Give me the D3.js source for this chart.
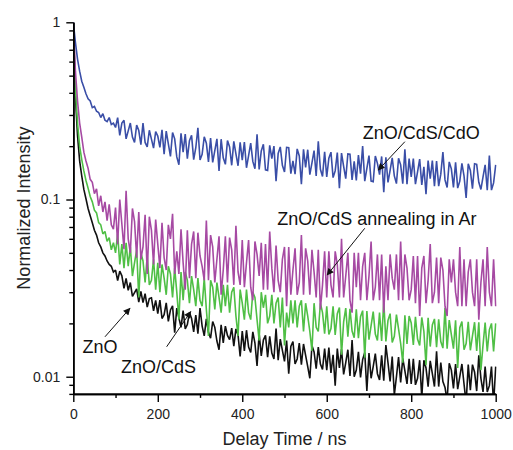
<!DOCTYPE html>
<html><head><meta charset="utf-8">
<script src="https://cdn.jsdelivr.net/npm/d3@7"></script>
<style>
html,body{margin:0;padding:0;background:#fff;}
svg{display:block;font-family:"Liberation Sans",Arial,sans-serif;}
</style></head>
<body><svg id="c" width="513" height="450"></svg>
<script>
// ---- data (delay time grid: leading rise point at t=0, then every 5 ns) ----
const seriesNames = ["ZnO", "ZnO/CdS", "ZnO/CdS annealing in Ar", "ZnO/CdS/CdO"];
const seriesColors = ["#111111", "#4fbf45", "#a64aa3", "#3a4ea7"];
const xTicks = [0, 200, 400, 600, 800, 1000];
const yTicks = [0.01, 0.1, 1];

const znO = [1.0,
1.0,0.38,0.23,0.165,0.136,0.114,0.101,0.089,0.081,0.074,0.067,0.063,0.057,0.054,0.05,0.048,0.045,0.043,0.042,0.039,0.04,
0.0349,0.0394,0.0371,0.0315,0.0359,0.0307,0.034,0.0284,0.0298,0.0313,0.0264,0.0303,0.0262,0.0294,0.0247,0.0276,0.0279,0.0235,0.027,0.0227,
0.0271,0.0213,0.0224,0.0261,0.0205,0.0238,0.0251,0.0177,0.0244,0.0215,0.019,0.0236,0.0186,0.0197,0.023,0.0213,0.0179,0.0223,0.0175,0.0244,
0.0193,0.017,0.0212,0.0178,0.0165,0.0205,0.019,0.0159,0.0142,0.0196,0.0155,0.0193,0.0171,0.0162,0.0188,0.0149,0.0186,0.0172,0.013,0.0181,
0.014,0.0183,0.0147,0.0137,0.0179,0.0155,0.0115,0.0175,0.0131,0.0161,0.0171,0.0129,0.0169,0.0136,0.0126,0.0187,0.0124,0.0163,0.0141,0.0122,
0.016,0.0104,0.0148,0.0158,0.0118,0.0126,0.0155,0.0117,0.0153,0.0132,0.0114,0.0098,0.015,0.0138,0.0111,0.0147,0.0118,0.011,0.0144,0.0109,
0.0146,0.0105,0.0133,0.0089,0.0144,0.0112,0.0143,0.0103,0.012,0.0142,0.0101,0.0161,0.01,0.0109,0.0138,0.0099,0.0125,0.0137,0.0083,0.0136,
0.0098,0.0114,0.0135,0.0104,0.0096,0.0132,0.0095,0.0151,0.012,0.0094,0.013,0.0079,0.01,0.0129,0.0093,0.0127,0.0108,0.0091,0.0126,0.0091,
0.0126,0.009,0.0098,0.0124,0.0076,0.0124,0.0112,0.0088,0.0123,0.0104,0.0088,0.0139,0.0088,0.012,0.0094,0.0087,0.0073,0.0119,0.0109,0.0086,
0.0118,0.0085,0.01,0.0118,0.0091,0.0071,0.0117,0.0084,0.0117,0.0106,0.0083,0.0132,0.0098,0.0082,0.0114,0.0082,0.0089,0.0114,0.007,0.0114];

const znOCdS = [0.2,
1.0,0.42,0.27,0.2,0.168,0.145,0.128,0.116,0.104,0.097,0.087,0.084,0.074,0.072,0.064,0.066,0.058,0.061,0.052,0.057,0.05,
0.064,0.043,0.056,0.041,0.057,0.042,0.054,0.037,0.044,0.052,0.028,0.05,0.045,0.034,0.048,0.033,0.035,0.046,0.031,0.044,
0.03,0.043,0.036,0.029,0.042,0.038,0.028,0.041,0.03,0.021,0.039,0.027,0.039,0.035,0.026,0.037,0.031,0.025,0.036,0.027,
0.025,0.036,0.024,0.017,0.035,0.032,0.024,0.034,0.028,0.023,0.033,0.025,0.033,0.023,0.03,0.032,0.022,0.017,0.031,0.026,
0.021,0.031,0.023,0.021,0.03,0.028,0.021,0.016,0.03,0.0245,0.029,0.02,0.022,0.029,0.02,0.026,0.028,0.019,0.028,0.015,
0.023,0.019,0.027,0.02,0.027,0.019,0.025,0.027,0.018,0.026,0.022,0.018,0.014,0.026,0.019,0.018,0.026,0.023,0.0175,0.025,
0.0173,0.0187,0.025,0.0172,0.0227,0.0246,0.0133,0.0204,0.0244,0.0168,0.0242,0.0181,0.0166,0.024,0.0165,0.0218,0.0236,0.0128,0.0235,0.0162,
0.0194,0.0233,0.0174,0.016,0.023,0.0159,0.0267,0.0158,0.0208,0.0227,0.0156,0.0169,0.0224,0.0186,0.0154,0.012,0.0222,0.0153,0.022,0.0201,
0.0151,0.0218,0.0163,0.015,0.0216,0.018,0.0116,0.0215,0.0148,0.0196,0.0212,0.0147,0.0211,0.0158,0.0145,0.0245,0.0144,0.0209,0.0173,0.0144,
0.0208,0.0112,0.0189,0.0205,0.0142,0.0154,0.0204,0.0141,0.017,0.0203,0.014,0.0203,0.0109,0.0151,0.0202,0.0139,0.0184,0.02,0.0139,0.02];

const znOCdSAr = [0.09,
1.0,0.53,0.36,0.27,0.225,0.185,0.165,0.15,0.13,0.125,0.108,0.115,0.092,0.105,0.085,0.097,0.076,0.094,0.072,0.068,0.09,
0.056,0.1,0.0725,0.0525,0.112,0.06,0.05,0.089,0.075,0.047,0.085,0.046,0.054,0.082,0.038,0.08,0.067,0.043,0.077,0.056,
0.041,0.074,0.047,0.04,0.072,0.06,0.083,0.038,0.051,0.038,0.068,0.044,0.031,0.067,0.036,0.056,0.066,0.036,0.065,0.048,
0.042,0.035,0.076,0.035,0.063,0.054,0.034,0.046,0.062,0.029,0.04,0.062,0.034,0.061,0.052,0.033,0.071,0.039,0.033,0.059,
0.032,0.044,0.059,0.032,0.027,0.058,0.049,0.037,0.057,0.031,0.056,0.031,0.066,0.041,0.03,0.055,0.035,0.03,0.046,0.054,
0.025,0.054,0.029,0.04,0.053,0.029,0.034,0.063,0.029,0.053,0.045,0.029,0.052,0.039,0.028,0.052,0.024,0.033,0.051,0.028,
0.051,0.033,0.028,0.051,0.043,0.028,0.06,0.028,0.037,0.05,0.027,0.023,0.05,0.032,0.05,0.027,0.042,0.05,0.027,0.037,
0.058,0.027,0.032,0.049,0.027,0.049,0.023,0.042,0.027,0.049,0.036,0.031,0.049,0.027,0.058,0.027,0.049,0.041,0.027,0.031,
0.048,0.026,0.048,0.022,0.041,0.048,0.026,0.035,0.056,0.026,0.03,0.047,0.026,0.047,0.04,0.025,0.022,0.046,0.034,0.046,
0.03,0.025,0.054,0.025,0.046,0.025,0.039,0.046,0.03,0.025,0.046,0.021,0.034,0.046,0.025,0.054,0.03,0.025,0.046,0.025];

const znOCdSCdO = [1.0,
1.0,0.77,0.62,0.53,0.465,0.43,0.395,0.37,0.36,0.33,0.335,0.315,0.31,0.29,0.305,0.28,0.275,0.29,0.265,0.27,0.255,
0.29,0.23,0.27,0.28,0.22,0.244,0.27,0.225,0.21,0.263,0.245,0.204,0.27,0.21,0.198,0.246,0.219,0.195,0.242,0.228,
0.197,0.247,0.18,0.243,0.206,0.175,0.239,0.22,0.174,0.157,0.236,0.185,0.234,0.17,0.215,0.23,0.168,0.196,0.254,0.167,
0.18,0.226,0.208,0.163,0.222,0.162,0.189,0.22,0.145,0.219,0.172,0.158,0.215,0.198,0.156,0.213,0.181,0.155,0.21,0.167,
0.211,0.151,0.177,0.208,0.164,0.149,0.233,0.148,0.188,0.205,0.147,0.146,0.202,0.17,0.2,0.127,0.182,0.198,0.156,0.143,
0.197,0.196,0.14,0.165,0.139,0.193,0.176,0.122,0.192,0.152,0.191,0.138,0.161,0.189,0.136,0.213,0.148,0.135,0.186,0.134,
0.171,0.185,0.133,0.145,0.184,0.116,0.183,0.154,0.131,0.181,0.18,0.129,0.164,0.128,0.178,0.14,0.2,0.127,0.15,0.177,
0.127,0.126,0.176,0.16,0.138,0.175,0.11,0.173,0.125,0.146,0.172,0.136,0.123,0.171,0.157,0.123,0.192,0.122,0.17,0.134,
0.17,0.122,0.143,0.169,0.121,0.153,0.107,0.166,0.131,0.166,0.119,0.165,0.119,0.139,0.185,0.129,0.117,0.163,0.149,0.117,
0.162,0.116,0.127,0.16,0.136,0.102,0.159,0.146,0.115,0.159,0.158,0.125,0.114,0.134,0.157,0.113,0.177,0.113,0.124,0.157];

const seriesValues = [znO, znOCdS, znOCdSAr, znOCdSCdO];
const times = [0].concat(d3.range(0, 1001, 5));
seriesValues.forEach((v, k) => { if (v.length !== times.length) console.warn(seriesNames[k], v.length, times.length); });

// annotations in data coordinates: label anchor and arrow tail -> tip
const annotations = [
  {text: "ZnO/CdS/CdO", tx: 685, ty: 0.2187, x1: 785, y1: 0.212, x2: 722, y2: 0.1467},
  {text: "ZnO/CdS annealing in Ar", tx: 483, ty: 0.0722, x1: 690, y1: 0.0688, x2: 601, y2: 0.0375},
  {text: "ZnO", tx: 22, ty: 0.01366, x1: 75, y1: 0.0168, x2: 134, y2: 0.0243},
  {text: "ZnO/CdS", tx: 113, ty: 0.01053, x1: 221, y1: 0.01476, x2: 278, y2: 0.0233}
];

// ---- layout ----
const svg = d3.select("#c");
const x = d3.scaleLinear().domain([0, 1000]).range([73.3, 495.7]);
const y = d3.scaleLog().domain([0.008, 1]).range([393.9, 22.3]);

svg.append("defs").append("clipPath").attr("id", "clip")
  .append("rect").attr("x", x(0)).attr("y", y(1) - 2)
  .attr("width", x(1000) - x(0) + 1).attr("height", y(0.008) - y(1) + 2);
const marker = svg.select("defs").append("marker")
  .attr("id", "arr").attr("viewBox", "0 0 10 10").attr("refX", 9).attr("refY", 5)
  .attr("markerWidth", 9).attr("markerHeight", 7).attr("markerUnits", "userSpaceOnUse")
  .attr("orient", "auto");
marker.append("path").attr("d", "M0,0 L10,5 L0,10 Z").attr("fill", "#111");

const line = d3.line().x((d, i) => x(times[i])).y(d => y(d));
const g = svg.append("g").attr("clip-path", "url(#clip)");
seriesValues.forEach((vals, k) => {
  g.append("path").datum(vals)
    .attr("d", line)
    .attr("fill", "none")
    .attr("stroke", seriesColors[k])
    .attr("stroke-width", 1.6)
    .attr("stroke-linejoin", "miter")
    .attr("stroke-miterlimit", 2);
});

// ---- axes ----
const fontFam = '"Liberation Sans", Arial, sans-serif';
const minorY = [];
[0.001, 0.01, 0.1].forEach(b => { for (let m = 2; m <= 9; m++) { const v = b * m; if (v >= 0.008 && v < 1) minorY.push(v); } });
const minorX = [100, 300, 500, 700, 900];

const yMinor = svg.append("g").attr("transform", `translate(${x(0)},0)`)
  .call(d3.axisLeft(y).tickValues(minorY).tickSize(4).tickFormat("").tickSizeOuter(0));
const yMajor = svg.append("g").attr("transform", `translate(${x(0)},0)`)
  .call(d3.axisLeft(y).tickValues(yTicks).tickSize(7).tickPadding(6).tickSizeOuter(0)
    .tickFormat(d => d === 1 ? "1" : String(d)));
const xMinor = svg.append("g").attr("transform", `translate(0,${y(0.008)})`)
  .call(d3.axisBottom(x).tickValues(minorX).tickSize(4).tickFormat("").tickSizeOuter(0));
const xMajor = svg.append("g").attr("transform", `translate(0,${y(0.008)})`)
  .call(d3.axisBottom(x).tickValues(xTicks).tickSize(8).tickPadding(7).tickSizeOuter(0).tickFormat(d3.format("d")));

[yMinor, yMajor, xMinor, xMajor].forEach(a => {
  a.selectAll("path.domain").attr("stroke", "#000").attr("stroke-width", 1.6);
  a.selectAll(".tick line").attr("stroke", "#000").attr("stroke-width", 1.4);
  a.selectAll("text").attr("font-family", fontFam).attr("font-size", 14).attr("fill", "#222");
});

// axis titles
svg.append("text").attr("x", (x(0) + x(1000)) / 2).attr("y", 445)
  .attr("text-anchor", "middle").attr("font-family", fontFam).attr("font-size", 18).attr("fill", "#222")
  .text("Delay Time / ns");
svg.append("text").attr("transform", `translate(30,${(y(1) + y(0.008)) / 2}) rotate(-90)`)
  .attr("text-anchor", "middle").attr("font-family", fontFam).attr("font-size", 18).attr("fill", "#222")
  .text("Normalized Intensity");

// annotations
const ann = svg.append("g");
annotations.forEach(a => {
  ann.append("line").attr("x1", x(a.x1)).attr("y1", y(a.y1)).attr("x2", x(a.x2)).attr("y2", y(a.y2))
    .attr("stroke", "#111").attr("stroke-width", 1).attr("marker-end", "url(#arr)");
  ann.append("text").attr("x", x(a.tx)).attr("y", y(a.ty))
    .attr("font-family", fontFam).attr("font-size", 18).attr("fill", "#111").text(a.text);
});
</script></body></html>
